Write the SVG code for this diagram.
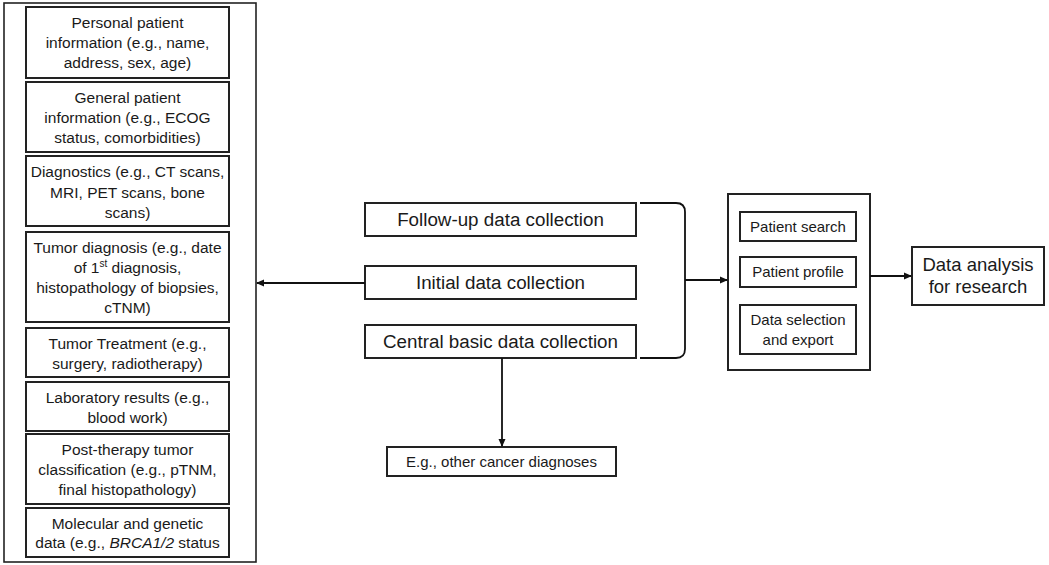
<svg xmlns="http://www.w3.org/2000/svg" width="1049" height="565" viewBox="0 0 1049 565">
<style>
.b{fill:#fff;stroke:#222;stroke-width:2}
.o{fill:none;stroke:#222;stroke-width:1.6}
.t{font-family:"Liberation Sans",Arial,sans-serif;fill:#1a1a1a;text-anchor:middle}
.s{font-size:15.5px}
.m{font-size:18.8px}
.r{font-size:15px}
.l{stroke:#111;stroke-width:1.8;fill:none}
</style>
<defs>
<marker id="ah" markerWidth="8" markerHeight="8" refX="7" refY="4" orient="auto" markerUnits="userSpaceOnUse">
<path d="M0,0.5 L8,4 L0,7.5 Z" fill="#111"/>
</marker>
</defs>
<rect width="1049" height="565" fill="#fff"/>
<g id="left-panel">
<rect class="o" x="4" y="3" width="252" height="559"/>
</g>
<g id="n-personal"><rect class="b" x="26" y="7" width="203" height="71"/>
<text class="t s"><tspan x="127.5" y="28">Personal patient</tspan><tspan x="127.5" y="48">information (e.g., name,</tspan><tspan x="127.5" y="68">address, sex, age)</tspan></text></g>
<g id="n-general"><rect class="b" x="26" y="82" width="203" height="70"/>
<text class="t s"><tspan x="127.5" y="102.5">General patient</tspan><tspan x="127.5" y="122.5">information (e.g., ECOG</tspan><tspan x="127.5" y="142.5">status, comorbidities)</tspan></text></g>
<g id="n-diagnostics"><rect class="b" x="26" y="156" width="203" height="70"/>
<text class="t s"><tspan x="127.5" y="177">Diagnostics (e.g., CT scans,</tspan><tspan x="127.5" y="197.5">MRI, PET scans, bone</tspan><tspan x="127.5" y="218">scans)</tspan></text></g>
<g id="n-tumordiag"><rect class="b" x="26" y="232" width="203" height="90"/>
<text class="t s"><tspan x="127.5" y="252.5">Tumor diagnosis (e.g., date</tspan><tspan x="127.5" y="272.5">of 1<tspan font-size="10" dy="-6">st</tspan><tspan dy="6"> diagnosis,</tspan></tspan><tspan x="127.5" y="292.5">histopathology of biopsies,</tspan><tspan x="127.5" y="313">cTNM)</tspan></text></g>
<g id="n-treatment"><rect class="b" x="26" y="328" width="203" height="49"/>
<text class="t s"><tspan x="127.5" y="348.5">Tumor Treatment (e.g.,</tspan><tspan x="127.5" y="368.5">surgery, radiotherapy)</tspan></text></g>
<g id="n-lab"><rect class="b" x="26" y="382" width="203" height="49"/>
<text class="t s"><tspan x="127.5" y="402.5">Laboratory results (e.g.,</tspan><tspan x="127.5" y="422.5">blood work)</tspan></text></g>
<g id="n-post"><rect class="b" x="26" y="434" width="203" height="70"/>
<text class="t s"><tspan x="127.5" y="454.5">Post-therapy tumor</tspan><tspan x="127.5" y="474.5">classification (e.g., pTNM,</tspan><tspan x="127.5" y="495">final histopathology)</tspan></text></g>
<g id="n-molecular"><rect class="b" x="26" y="508" width="203" height="49"/>
<text class="t s"><tspan x="127.5" y="528.5">Molecular and genetic</tspan><tspan x="127.5" y="548">data (e.g., <tspan font-style="italic">BRCA1/2</tspan> status</tspan></text></g>
<g id="n-followup"><rect class="b" x="365" y="203" width="271" height="33"/>
<text class="t m" x="500.5" y="226">Follow-up data collection</text></g>
<g id="n-initial"><rect class="b" x="365" y="266" width="271" height="33"/>
<text class="t m" x="500.5" y="289">Initial data collection</text></g>
<g id="n-central"><rect class="b" x="365" y="325" width="271" height="33"/>
<text class="t m" x="500.5" y="348">Central basic data collection</text></g>
<g id="n-other"><rect class="b" x="387" y="447" width="229" height="29"/>
<text class="t r" x="501.5" y="467">E.g., other cancer diagnoses</text></g>
<g id="n-tool"><rect class="b" x="728" y="194" width="142" height="176"/>
<rect class="b" x="740" y="212" width="116" height="29"/>
<text class="t r" x="798" y="232">Patient search</text>
<rect class="b" x="740" y="257" width="116" height="30"/>
<text class="t r" x="798" y="277">Patient profile</text>
<rect class="b" x="740" y="305" width="116" height="49"/>
<text class="t r"><tspan x="798" y="325">Data selection</tspan><tspan x="798" y="345">and  export</tspan></text></g>
<g id="n-analysis"><rect class="b" x="912" y="247" width="132" height="58"/>
<text class="t" font-size="18.5px"><tspan x="978" y="271">Data analysis</tspan><tspan x="978" y="293">for research</tspan></text></g>
<g id="connectors">
<path class="l" d="M365,283 H257" marker-end="url(#ah)"/>
<path class="l" d="M502,358 V446" marker-end="url(#ah)"/>
<path class="l" d="M640,203 H676 Q685,203 685,212 V349 Q685,358 676,358 H640"/>
<path class="l" d="M685,280 H727" marker-end="url(#ah)"/>
<path class="l" d="M870,276 H911" marker-end="url(#ah)"/>
</g>
</svg>
